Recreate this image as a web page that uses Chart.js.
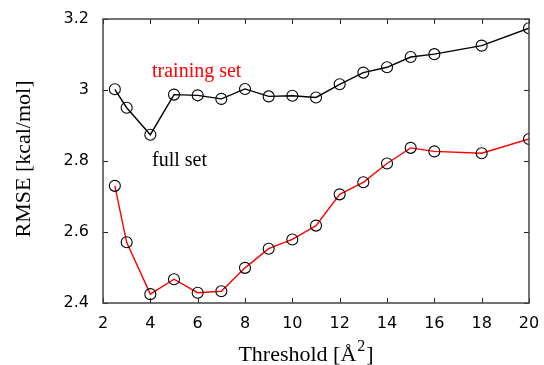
<!DOCTYPE html>
<html>
<head>
<meta charset="utf-8">
<script src="https://cdn.jsdelivr.net/npm/chart.js@4/dist/chart.umd.min.js"></script>
<style>
  html, body { margin: 0; padding: 0; background: #fff; }
  #wrap { width: 544px; height: 365px; position: relative; }
</style>
</head>
<body>
<div id="wrap"><canvas id="c" width="544" height="365"></canvas></div>
<script>
// Threshold values (Å²) at which the RMSE was evaluated
const thresholds = [2.5, 3, 4, 5, 6, 7, 8, 9, 10, 11, 12, 13, 14, 15, 16, 18, 20];

// RMSE in kcal/mol, black curve
const blackRmse = [3.002, 2.950, 2.874, 2.987, 2.985, 2.975, 3.003, 2.982, 2.984, 2.979,
                   3.016, 3.049, 3.064, 3.093, 3.101, 3.125, 3.174];

// RMSE in kcal/mol, red curve
const redRmse = [2.730, 2.571, 2.425, 2.467, 2.429, 2.433, 2.499, 2.553, 2.579, 2.618,
                 2.706, 2.740, 2.793, 2.837, 2.827, 2.822, 2.862];

const xTicks = [2, 4, 6, 8, 10, 12, 14, 16, 18, 20];
const yTicks = [2.4, 2.6, 2.8, 3.0, 3.2];

// Text labels placed in data coordinates
const labels = [
  { text: 'training set', x: 4.07, y: 3.051, color: '#ff0000' },
  { text: 'full set',     x: 4.07, y: 2.800, color: '#000000' }
];

const xTitle = { main: 'Threshold [Å', sup: '2', tail: ']' };
const yTitle = 'RMSE [kcal/mol]';

const toPoints = (ys) => thresholds.map((x, i) => ({ x, y: ys[i] }));

const serif = (px) => px + 'px "Liberation Serif", "Times New Roman", serif';

// Frame, inward ticks, axis titles and the text labels
const framePlugin = {
  id: 'frame',
  afterDatasetsDraw(chart) {
    const { ctx, chartArea: a, scales } = chart;
    const xs = scales.x, ys = scales.y;
    const len = 5;
    ctx.save();
    ctx.strokeStyle = '#222';
    ctx.lineWidth = 1;
    ctx.beginPath();
    xTicks.forEach(v => {
      const px = Math.round(xs.getPixelForValue(v)) + 0.5;
      ctx.moveTo(px, a.bottom); ctx.lineTo(px, a.bottom - len);
      ctx.moveTo(px, a.top); ctx.lineTo(px, a.top + len);
    });
    yTicks.forEach(v => {
      const py = Math.round(ys.getPixelForValue(v)) + 0.5;
      ctx.moveTo(a.left, py); ctx.lineTo(a.left + len, py);
      ctx.moveTo(a.right, py); ctx.lineTo(a.right - len, py);
    });
    ctx.stroke();
    ctx.strokeStyle = '#444';
    ctx.lineWidth = 1.5;
    ctx.strokeRect(a.left, a.top, a.right - a.left, a.bottom - a.top);

    // annotations
    ctx.font = serif(20);
    ctx.textAlign = 'left';
    ctx.textBaseline = 'middle';
    labels.forEach(l => {
      ctx.fillStyle = l.color;
      ctx.fillText(l.text, xs.getPixelForValue(l.x), ys.getPixelForValue(l.y));
    });

    // x axis title with a raised exponent
    ctx.fillStyle = '#000';
    ctx.textBaseline = 'alphabetic';
    ctx.font = serif(22);
    const wMain = ctx.measureText(xTitle.main).width;
    const wTail = ctx.measureText(xTitle.tail).width;
    ctx.font = serif(16);
    const wSup = ctx.measureText(xTitle.sup).width;
    const total = wMain + wSup + 2 + wTail;
    let tx = (a.left + a.right) / 2 - 10 - total / 2;
    const base = chart.height - 4;
    ctx.font = serif(22);
    ctx.fillText(xTitle.main, tx, base);
    tx += wMain + 1;
    ctx.font = serif(16);
    ctx.fillText(xTitle.sup, tx, base - 10);
    tx += wSup + 1;
    ctx.font = serif(22);
    ctx.fillText(xTitle.tail, tx, base);

    // y axis title
    ctx.save();
    ctx.translate(24, (a.top + a.bottom) / 2 - 2);
    ctx.rotate(-Math.PI / 2);
    ctx.textAlign = 'center';
    ctx.textBaseline = 'middle';
    ctx.font = serif(22);
    ctx.fillText(yTitle, 0, 0);
    ctx.restore();

    ctx.restore();
  }
};

const pointStyle = {
  pointStyle: 'circle',
  pointRadius: 5.5,
  pointHoverRadius: 5.5,
  pointBackgroundColor: 'rgba(0,0,0,0)',
  pointBorderColor: '#000',
  pointBorderWidth: 1.1
};

new Chart(document.getElementById('c'), {
  type: 'line',
  data: {
    datasets: [
      Object.assign({ label: 'black', data: toPoints(blackRmse), borderColor: '#000', borderWidth: 1.4 }, pointStyle),
      Object.assign({ label: 'red', data: toPoints(redRmse), borderColor: '#ff0000', borderWidth: 1.4 }, pointStyle)
    ]
  },
  options: {
    responsive: false,
    animation: false,
    layout: { padding: { top: 19, right: 15, left: 0, bottom: 0 } },
    plugins: { legend: { display: false }, tooltip: { enabled: false } },
    scales: {
      x: {
        type: 'linear',
        min: 2, max: 20,
        afterBuildTicks: (s) => { s.ticks = xTicks.map(v => ({ value: v })); },
        afterFit: (s) => { s.height = 62; s.paddingLeft = 0; s.paddingRight = 0; },
        grid: { display: false, drawTicks: false },
        border: { display: false },
        ticks: {
          color: '#000',
          font: { family: '"DejaVu Sans", sans-serif', size: 16 },
          padding: 11,
          maxRotation: 0,
          callback: (v) => String(v)
        },
        title: { display: false }
      },
      y: {
        type: 'linear',
        min: 2.4, max: 3.2,
        afterBuildTicks: (s) => { s.ticks = yTicks.map(v => ({ value: v })); },
        afterFit: (s) => { s.width = 103; s.paddingTop = 0; s.paddingBottom = 0; },
        grid: { display: false, drawTicks: false },
        border: { display: false },
        ticks: {
          color: '#000',
          font: { family: '"DejaVu Sans", sans-serif', size: 16 },
          padding: 14,
          callback: (v) => (Math.abs(v - 3) < 1e-9 ? '3' : v.toFixed(1))
        },
        title: { display: false }
      }
    }
  },
  plugins: [framePlugin]
});
</script>
</body>
</html>
